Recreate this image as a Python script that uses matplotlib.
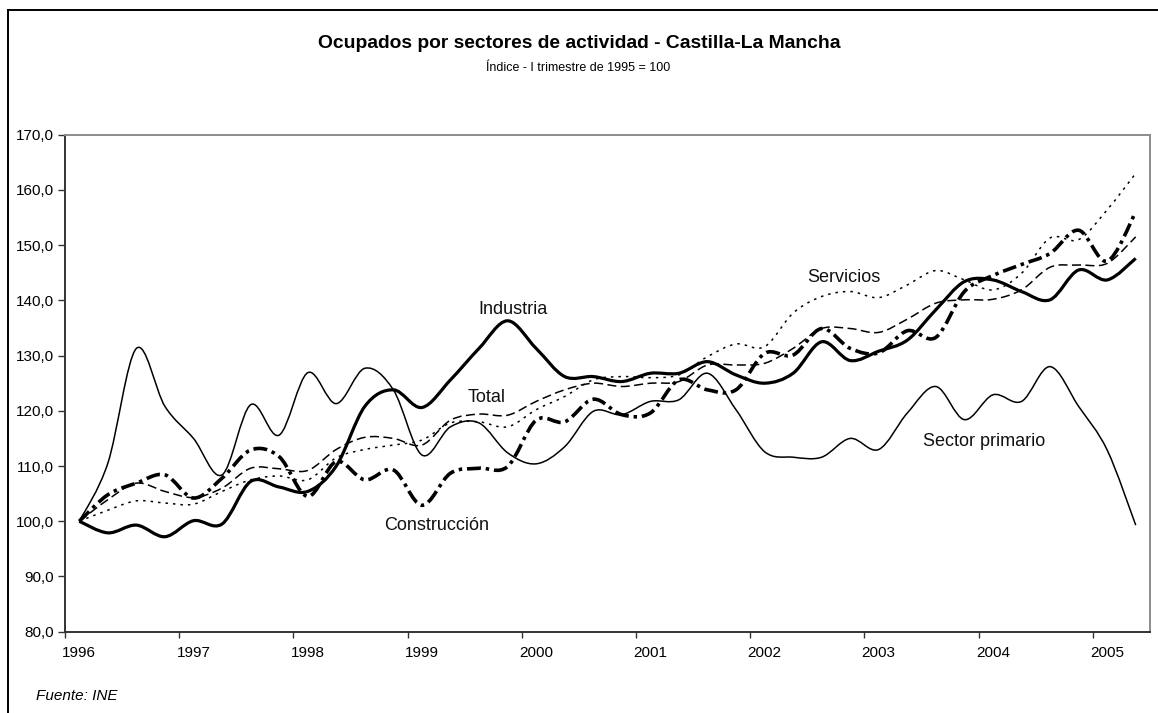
import numpy as np
import matplotlib
matplotlib.use("Agg")
import matplotlib.pyplot as plt
from matplotlib.path import Path
from matplotlib.patches import PathPatch
from matplotlib.lines import Line2D
from matplotlib.ticker import FixedLocator, FuncFormatter, NullFormatter

plt.rcParams['font.family'] = ['Liberation Sans', 'DejaVu Sans']
plt.rcParams['lines.scale_dashes'] = False

# quarterly series, 1996 Q1 .. 2005 Q2
years = ['1996', '1997', '1998', '1999', '2000', '2001', '2002', '2003', '2004', '2005']

sector_primario = [100.0, 110.5, 131.3, 120.8, 115.0, 108.4, 121.1, 115.6, 126.9, 121.3,
                   127.7, 123.8, 112.0, 117.1, 117.8, 112.4, 110.4, 113.5, 119.9, 119.3,
                   121.7, 122.0, 126.8, 120.2, 112.6, 111.6, 111.6, 115.0, 113.0, 119.6,
                   124.4, 118.4, 122.9, 121.7, 128.0, 120.8, 112.9, 99.3]

industria = [100.0, 97.9, 99.3, 97.2, 100.1, 99.5, 107.2, 106.2, 105.4, 110.0,
             120.8, 123.8, 120.6, 125.6, 131.3, 136.3, 131.3, 126.2, 126.2, 125.3,
             126.8, 126.8, 128.9, 126.5, 125.0, 126.8, 132.5, 129.1, 130.8, 132.8,
             138.3, 143.4, 143.7, 141.6, 140.1, 145.5, 143.7, 147.6]

construccion = [100.0, 104.8, 106.9, 108.4, 104.2, 107.8, 112.9, 111.7, 104.5, 110.8,
                107.5, 109.3, 102.9, 108.7, 109.6, 109.9, 118.3, 118.0, 122.1, 119.3,
                119.6, 125.6, 123.8, 123.8, 130.4, 130.1, 134.9, 131.3, 130.5, 134.5,
                133.3, 141.6, 144.5, 146.5, 148.5, 152.7, 147.1, 156.0]

total = [100.0, 103.9, 106.9, 105.4, 104.3, 106.0, 109.6, 109.5, 109.2, 113.0,
         115.2, 115.0, 113.8, 118.3, 119.4, 119.2, 121.7, 123.8, 125.0, 124.4,
         125.0, 125.3, 128.3, 128.3, 128.6, 131.3, 134.9, 134.9, 134.2, 136.6,
         139.5, 140.1, 140.2, 141.9, 146.0, 146.4, 146.7, 151.5]

servicios = [100.0, 102.0, 103.7, 103.3, 103.1, 105.4, 107.5, 108.2, 107.5, 111.5,
             113.0, 113.8, 114.7, 117.8, 118.0, 117.1, 120.2, 122.6, 125.6, 126.2,
             126.0, 126.5, 129.8, 132.1, 131.6, 137.7, 140.7, 141.6, 140.5, 142.8,
             145.4, 143.7, 141.9, 144.9, 151.3, 151.0, 156.4, 163.0]


def smooth_path(xs, ys):
    """Bezier path through the points, like Excel's smoothed lines"""
    pts = np.column_stack([xs, ys]).astype(float)
    n = len(pts)
    verts = [pts[0]]
    codes = [Path.MOVETO]
    for i in range(n - 1):
        p0 = pts[max(i - 1, 0)]
        p1 = pts[i]
        p2 = pts[i + 1]
        p3 = pts[min(i + 2, n - 1)]
        c1 = p1 + (p2 - p0) / 6.0
        c2 = p2 - (p3 - p1) / 6.0
        verts += [c1, c2, p2]
        codes += [Path.CURVE4] * 3
    return Path(verts, codes)


fig = plt.figure(figsize=(11.58, 7.13), dpi=100)
ax = fig.add_axes([65 / 1158, 1 - 631.7 / 713, (1150 - 65) / 1158, (631.7 - 134.7) / 713])

x = np.arange(len(total))

series = [
    (sector_primario, dict(lw=1.1, ls='-')),
    (servicios, dict(lw=1.1, ls=(0, (1.8, 3.6)))),
    (total, dict(lw=1.1, ls=(0, (6.5, 3.2)))),
    (industria, dict(lw=2.3, ls='-')),
    (construccion, dict(lw=2.6, ls=(0, (10, 3.5, 2.5, 3.5)))),
]
for vals, style in series:
    ax.add_patch(PathPatch(smooth_path(x, vals), fill=False, edgecolor='black',
                           capstyle='butt', joinstyle='round', **style))

ax.set_xlim(-0.5, len(total) - 0.5)
ax.set_ylim(80, 170)

# ticks between quarters, labels under first quarter of each year
ax.xaxis.set_major_locator(FixedLocator(np.arange(-0.5, len(total) - 1, 4)))
ax.xaxis.set_major_formatter(NullFormatter())
ax.xaxis.set_minor_locator(FixedLocator(np.arange(0, len(total), 4)))
ax.set_xticklabels(years, minor=True)
ax.tick_params(axis='x', which='major', length=4, width=1, direction='out', color='#333333')
ax.tick_params(axis='x', which='minor', length=0, pad=10, labelsize=11)

ax.yaxis.set_major_locator(FixedLocator(np.arange(80, 171, 10)))
ax.yaxis.set_major_formatter(FuncFormatter(lambda v, p: ('%.1f' % v).replace('.', ',')))
ax.tick_params(axis='y', length=5, width=1, direction='out', pad=3, labelsize=11, color='#333333')

for side in ['left', 'bottom']:
    ax.spines[side].set_color('#333333')
    ax.spines[side].set_linewidth(1.4)
for side in ['top', 'right']:
    ax.spines[side].set_color('#8c8c8c')
    ax.spines[side].set_linewidth(1.4)

# series labels
lab = dict(fontsize=13, ha='center', va='center', color='#111111')
ax.text(15.19, 138.4, 'Industria', **lab)
ax.text(14.28, 122.5, 'Total', **lab)
ax.text(12.53, 99.3, 'Construcción', **lab)
ax.text(26.78, 144.2, 'Servicios', **lab)
ax.text(31.68, 114.5, 'Sector primario', **lab)

fig.text(0.5005, 1 - 44 / 713, 'Ocupados por sectores de actividad - Castilla-La Mancha',
         ha='center', va='center', fontsize=13.9, fontweight='bold')
fig.text(0.499, 1 - 68 / 713, 'Índice - I trimestre de 1995 = 100',
         ha='center', va='center', fontsize=9)
fig.text(36 / 1158, 1 - 696 / 713, 'Fuente: INE', ha='left', va='center',
         fontsize=11, style='italic')

# outer chart frame
fig.add_artist(Line2D([8 / 1158, 8 / 1158], [0, 1 - 10 / 713], transform=fig.transFigure,
                      color='black', lw=1.4))
fig.add_artist(Line2D([8 / 1158, 1], [1 - 10 / 713, 1 - 10 / 713], transform=fig.transFigure,
                      color='black', lw=1.4))

fig.savefig('out.png', dpi=100)
